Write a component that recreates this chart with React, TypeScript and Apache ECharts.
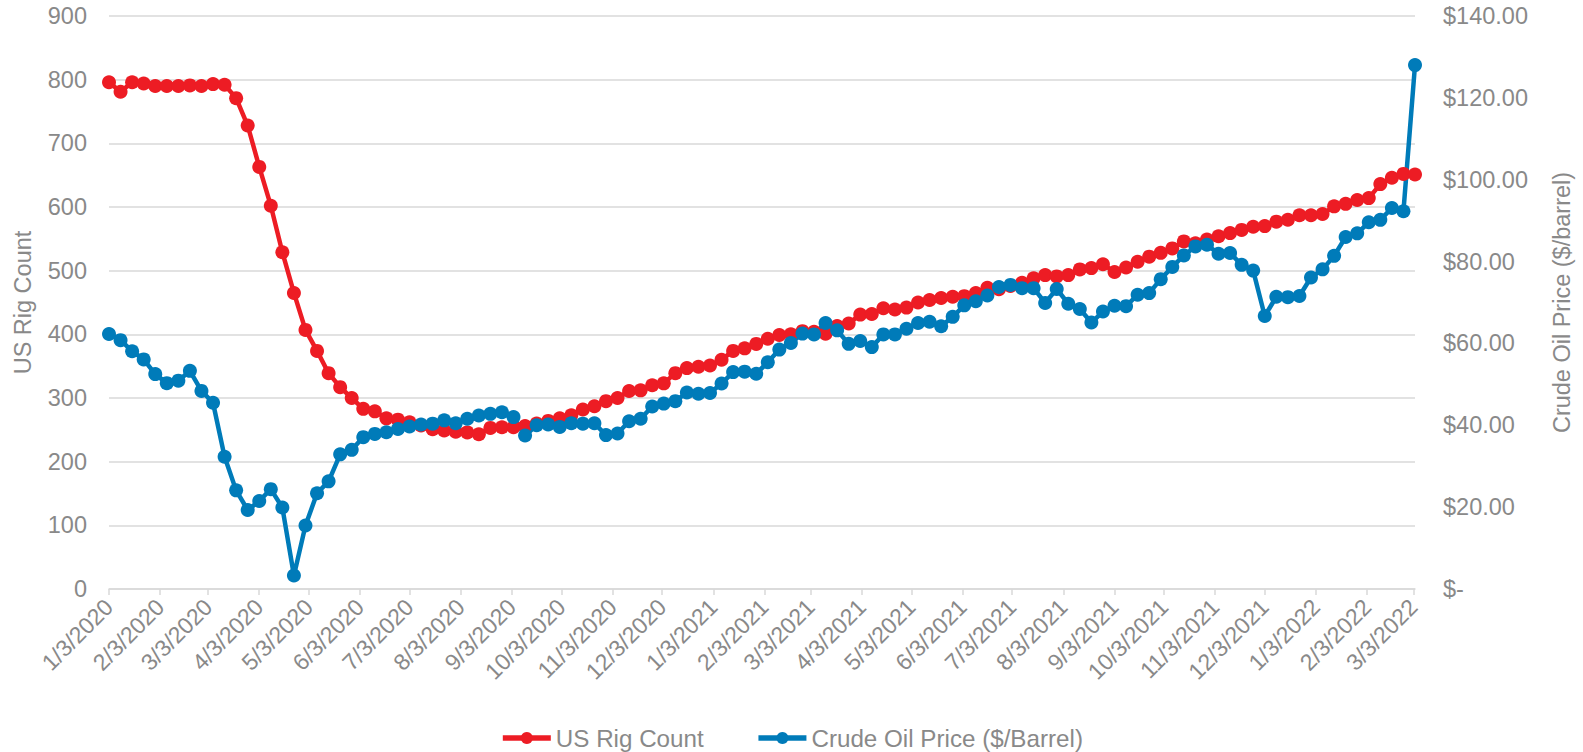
import React, { useEffect, useRef } from "react";
import * as echarts from "echarts";

// Weekly observations, starting Friday 1/3/2020
const startDate = [2020, 0, 3];
const weekCount = 114;

const rigCount = [
  796, 781, 796, 794, 790, 790, 790, 791, 790, 793,
  792, 771, 728, 663, 602, 529, 465, 407, 374, 339,
  317, 300, 283, 279, 268, 266, 262, 257, 251, 249,
  247, 246, 243, 253, 254, 254, 256, 260, 264, 268,
  273, 282, 287, 295, 300, 311, 312, 320, 323, 339,
  347, 349, 351, 360, 374, 378, 385, 393, 399, 400,
  405, 404, 401, 413, 417, 431, 432, 441, 439, 442,
  450, 454, 457, 459, 460, 465, 473, 471, 476, 481,
  488, 493, 491, 493, 502, 504, 510, 498, 505, 514,
  522, 528, 535, 546, 543, 549, 554, 559, 564, 569,
  570, 577, 580, 587, 587, 589, 601, 605, 611, 614,
  636, 646, 652, 651,
];

const oilPrice = [
  62.3, 60.8, 58.1, 56.1, 52.5, 50.3, 50.9, 53.3, 48.4, 45.5,
  32.3, 24.1, 19.3, 21.5, 24.4, 19.9, 3.3, 15.5, 23.4, 26.3,
  32.9, 34.0, 37.1, 37.9, 38.3, 39.1, 39.7, 40.2, 40.4, 41.2,
  40.5, 41.6, 42.4, 42.8, 43.2, 42.0, 37.5, 40.0, 40.2, 39.6,
  40.5, 40.4, 40.5, 37.6, 38.0, 41.0, 41.6, 44.6, 45.3, 45.9,
  48.0, 47.7, 47.9, 50.2, 53.0, 53.1, 52.6, 55.4, 58.5, 60.1,
  62.4, 62.2, 65.0, 63.2, 59.9, 60.6, 59.1, 62.2, 62.2, 63.6,
  65.0, 65.3, 64.2, 66.5, 69.3, 70.3, 71.7, 73.8, 74.3, 73.5,
  73.5, 69.9, 73.3, 69.7, 68.4, 65.1, 67.8, 69.2, 69.1, 71.9,
  72.3, 75.7, 78.7, 81.5, 83.7, 84.1, 81.9, 82.1, 79.2, 77.8,
  66.7, 71.4, 71.3, 71.6, 76.1, 78.1, 81.4, 86.0, 86.9, 89.6,
  90.2, 93.1, 92.3, 128.0,
];

const leftTicks = { min: 0, max: 900, interval: 100 };
const rightTicks = { min: 0, max: 140, interval: 20 };

const seriesNames = ["US Rig Count", "Crude Oil Price ($/Barrel)"];
const axisTitles = ["US Rig Count", "Crude Oil Price ($/barrel)"];

// daily categories from start date through the last weekly observation
function buildDays(): string[] {
  const days: string[] = [];
  const t0 = Date.UTC(startDate[0], startDate[1], startDate[2]);
  const total = (weekCount - 1) * 7 + 1;
  for (let i = 0; i < total; i++) {
    const d = new Date(t0 + i * 86400000);
    days.push(`${d.getUTCMonth() + 1}/${d.getUTCDate()}/${d.getUTCFullYear()}`);
  }
  return days;
}

const FONT = "'Liberation Sans', Arial, Helvetica, sans-serif";
const GRAY = "#898989";
const GRID = "#d9d9d9";
const RED = "#ED1C24";
const BLUE = "#007BB9";

export default function App() {
  const ref = useRef<HTMLDivElement>(null);
  useEffect(() => {
    if (!ref.current) return;
    const chart = echarts.init(ref.current, null, { renderer: "svg" });
    const days = buildDays();
    const isThird = (_i: number, v: string) => v.split("/")[1] === "3";
    chart.setOption({
      animation: false,
      textStyle: { fontFamily: FONT },
      grid: { left: 109, right: 168, top: 16, bottom: 163, outerBoundsMode: "none" },
      legend: {
        data: seriesNames,
        left: "center",
        top: 721,
        itemWidth: 48,
        itemHeight: 15,
        itemGap: 52,
        lineStyle: { width: 5.5 },
        textStyle: { color: GRAY, fontSize: 24.2, fontFamily: FONT },
      },
      xAxis: {
        type: "category",
        data: days,
        boundaryGap: false,
        axisLine: { lineStyle: { color: GRID, width: 1.5 } },
        axisTick: { show: true, interval: isThird, length: 6, lineStyle: { color: GRID, width: 1.5 } },
        axisLabel: {
          interval: isThird,
          rotate: 45,
          margin: 14,
          color: GRAY,
          fontSize: 23,
          fontFamily: FONT,
        },
        splitLine: { show: false },
      },
      yAxis: [
        {
          type: "value",
          ...leftTicks,
          position: "left",
          name: axisTitles[0],
          nameLocation: "middle",
          nameGap: 74,
          nameRotate: 90,
          nameTextStyle: { color: GRAY, fontSize: 23.5, fontFamily: FONT },
          axisLine: { show: false },
          axisTick: { show: false },
          axisLabel: { color: GRAY, fontSize: 23.5, margin: 22, fontFamily: FONT },
          splitLine: { lineStyle: { color: GRID, width: 1.5 } },
        },
        {
          type: "value",
          ...rightTicks,
          position: "right",
          name: axisTitles[1],
          nameLocation: "middle",
          nameGap: 135,
          nameRotate: 90,
          nameTextStyle: { color: GRAY, fontSize: 23.5, fontFamily: FONT },
          axisLine: { show: false },
          axisTick: { show: false },
          axisLabel: {
            color: GRAY,
            fontSize: 23.5,
            margin: 28,
            fontFamily: FONT,
            formatter: (v: number) => (v === 0 ? "$-" : "$" + v.toFixed(2)),
          },
          splitLine: { show: false },
        },
      ],
      series: [
        {
          name: seriesNames[0],
          type: "line",
          yAxisIndex: 0,
          data: rigCount.map((v, i) => [i * 7, v]),
          symbol: "circle",
          symbolSize: 14,
          showAllSymbol: true,
          lineStyle: { color: RED, width: 4.5 },
          itemStyle: { color: RED },
        },
        {
          name: seriesNames[1],
          type: "line",
          yAxisIndex: 1,
          data: oilPrice.map((v, i) => [i * 7, v]),
          symbol: "circle",
          symbolSize: 14,
          showAllSymbol: true,
          lineStyle: { color: BLUE, width: 4.5 },
          itemStyle: { color: BLUE },
        },
      ],
    });
    return () => chart.dispose();
  }, []);
  return (
    <div
      ref={ref}
      style={{ position: "absolute", left: 0, top: 0, width: 1583, height: 752, background: "#fff" }}
    />
  );
}
